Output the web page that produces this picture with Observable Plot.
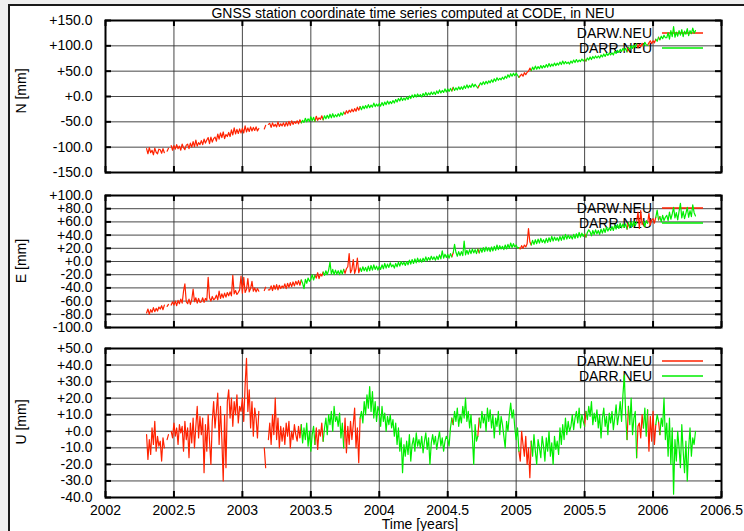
<!DOCTYPE html>
<html>
<head>
<meta charset="utf-8">
<script src="https://cdn.jsdelivr.net/npm/d3@7"></script>
<script src="https://cdn.jsdelivr.net/npm/@observablehq/plot@0.6"></script>
<style>
  html, body { margin: 0; padding: 0; background: #efefef; }
  #page { position: relative; width: 744px; height: 531px; overflow: hidden;
          font-family: "Liberation Sans", Arial, sans-serif; color: #000; }
  #sheet { position: absolute; left: 8px; top: 4px; width: 800px; height: 600px;
           background: #fff; border: 2px solid #1a1a1a; }
  #page svg { position: absolute; left: 0; top: 0; }
  .title { position: absolute; left: 105px; width: 616px; top: 5px; text-align: center;
           font-size: 14px; line-height: 16px; white-space: nowrap; }
  .xlabel { position: absolute; left: 320px; width: 200px; top: 518px; text-align: center;
            font-size: 14px; line-height: 12px; white-space: nowrap; }
  .ylabel { position: absolute; width: 100px; height: 16px; margin-left: -50px; margin-top: -8px;
            text-align: center; font-size: 14px; line-height: 16px; transform: rotate(-90deg);
            white-space: nowrap; }
</style>
</head>
<body>
<div id="page">
  <div id="sheet"></div>
  <div class="title">GNSS station coordinate time series computed at CODE, in NEU</div>
  <div class="ylabel" style="left:21px; top:91px">N [mm]</div>
  <div class="ylabel" style="left:21px; top:261px">E [mm]</div>
  <div class="ylabel" style="left:21px; top:422px">U [mm]</div>
  <div class="xlabel">Time [years]</div>
</div>
<script>
// Daily solutions resampled every 0.01 year, starting at 2002.30
const start = 2002.30;
const step = 0.01;

// North component [mm]; null = no solution
const north = [
  -103, -113, -101, -111, -106, -115, -102, -110, -113, -104,
  -105, -112, -103, -111, null, -108, -102, null, -97, -106,
  -97, -104, -95, -103, -98, -106, -94, -101, -105, -96,
  -94, -103, -92, -100, -89, -99, -86, -98, -91, -95,
  -87, -95, -84, -92, -86, -81, -93, -80, -90, -83,
  -80, -88, -74, -84, -72, -81, -70, -83, -75, -79,
  -71, -79, -66, -76, -62, -74, -65, -73, -64, -72,
  -63, -72, -58, -70, -62, -69, -60, -68, -61, -67,
  -60, -68, -63, null, null, null, -64, -57, null, -55,
  -53, -61, -52, -59, -55, -60, -50, -59, -54, -58,
  -52, -59, -51, -58, -49, -57, -48, -55, -50, -53,
  -48, -54, -46, -52, -47, -51, -43, -50, -44, -49,
  -40, -48, -41, -49, -39, -47, -42, -45, -38, -46,
  -38, -44, -37, -43, -35, -42, -34, -41, -36, -40,
  -34, -39, -32, -37, -31, -35, -28, -33, -27, -31,
  -25, -30, -24, -29, -21, -27, -20, -26, -19, -24,
  -18, -23, -16, -22, -17, -21, -13, -20, -15, -19,
  -14, -19, -12, -18, -11, -16, -9, -15, -10, -14,
  -8, -13, -6, -11, -4, -9, -2, -8, -3, -7,
  -1, -6, 1, -4, 3, -2, 4, -1, 5, 0,
  4, -1, 6, 1, 8, 2, 7, 3, 9, 4,
  9, 4, 11, 6, 13, 7, 12, 8, 15, 9,
  15, 10, 16, 11, 18, 12, 17, 13, 19, 14,
  19, 14, 21, 16, 23, 17, 22, 18, 25, 19,
  24, 20, 17, 22, 27, 23, 29, 24, 30, 25,
  31, 27, 33, 28, 35, 30, 37, 32, 36, 33,
  38, 34, 40, 36, 43, 38, 45, 40, 46, 41,
  46, 42, 38, 41, 44, 40, 47, 43, 48, 50,
  56, 51, 58, 53, 60, 54, 59, 55, 61, 56,
  61, 57, 63, 58, 65, 59, 64, 60, 66, 61,
  66, 62, 68, 63, 70, 64, 69, 65, 68, 64,
  70, 66, 72, 67, 73, 68, 72, 69, 74, 70,
  74, 70, 76, 72, 78, 73, 79, 75, 80, 76,
  80, 76, 82, 78, 84, 79, 85, 81, 86, 82,
  86, 82, 89, 85, 91, 87, 93, 89, 95, 91,
  95, 88, 97, 93, 100, 95, 101, 97, 104, 96,
  103, 98, 105, 100, 107, 102, 101, 106, 110, 104,
  110, 106, 113, 109, 117, 112, 119, 114, 121, 116,
  116, 126, 113, 130, 118, 138, 117, 127, 119, 130,
  121, 132, 118, 129, 123, 134, 120, 130, 124, 135,
  125, 130
];

// East component [mm]
const east = [
  -78, -72, -80, -73, -77, -70, -76, -71, -75, -69,
  -72, -67, -73, -66, null, -68, -65, null, -66, -61,
  -66, -60, -67, -59, -64, -57, -63, -45, -34, -61,
  -64, -57, -65, -58, -42, -61, -55, -63, -56, -62,
  -61, -55, -62, -56, -59, -24, -55, -60, -53, -58,
  -56, -51, -58, -45, -56, -49, -55, -48, -54, -47,
  -52, -46, -52, -21, -49, -44, -50, -47, -43, -22,
  -48, -24, -47, -42, -26, -46, -41, -30, -45, -40,
  -46, -41, -45, null, null, null, -44, -39, null, -43,
  -43, -37, -44, -36, -42, -35, -43, -36, -41, -37,
  -40, -34, -41, -33, -39, -32, -38, -31, -37, -30,
  -35, -29, -36, -28, -33, -41, -27, -33, -25, -30,
  -27, -20, -28, -21, -25, -17, -26, -19, -22, -16,
  -21, -14, -20, -13, -1, -19, -12, -20, -13, -19,
  -14, -20, -13, -19, -12, -18, -11, -8, 12, -17,
  -12, 3, -18, -11, 5, -17, -10, -15, -8, -14,
  -9, -15, -7, -14, -6, -13, -5, -12, -7, -13,
  -7, -12, -5, -11, -3, -10, -4, -9, -2, -8,
  -5, -10, -3, -8, -1, -7, 0, -5, -1, -6,
  0, -5, 2, -4, 3, -3, 4, -2, 5, -1,
  4, -1, 5, 0, 7, 1, 6, 2, 8, 3,
  7, 2, 8, 3, 10, 4, 16, 5, 11, 6,
  11, 5, 12, 7, 13, 26, 14, 8, 15, 9,
  15, 9, 31, 10, 17, 11, 18, 12, 19, 13,
  18, 12, 19, 13, 20, 14, 21, 15, 22, 16,
  21, 15, 22, 16, 23, 17, 25, 18, 24, 19,
  23, 18, 25, 19, 26, 20, 28, 21, 27, 22,
  25, 20, 21, 19, 24, 20, 25, 22, 27, 50,
  30, 25, 32, 26, 33, 27, 34, 28, 35, 29,
  33, 28, 35, 29, 36, 30, 38, 31, 37, 32,
  36, 31, 38, 32, 39, 33, 41, 34, 40, 35,
  39, 34, 41, 35, 42, 36, 44, 37, 43, 38,
  42, 37, 44, 48, 45, 39, 47, 41, 48, 42,
  47, 41, 49, 43, 50, 44, 52, 46, 51, 47,
  53, 47, 55, 49, 56, 50, 58, 51, 57, 52,
  57, 49, 59, 51, 60, 53, 61, 54, 60, 75,
  50, 77, 56, 60, 53, 62, 58, 73, 55, 63,
  65, 58, 67, 78, 63, 68, 60, 70, 62, 67,
  70, 62, 75, 64, 72, 82, 66, 74, 63, 76,
  88, 66, 76, 65, 73, 82, 67, 77, 68, 86,
  74, 69
];

// Up component [mm]
const up = [
  -2, -17, -5, -14, 2, -8, 6, -12, -3, -9,
  -6, -18, -4, -10, null, -5, -2, null, 0, -4,
  5, -3, 2, -8, 4, -1, 3, -12, 6, -5,
  2, -16, 5, -7, 8, -10, 3, 15, -4, 9,
  -2, 8, -25, 4, -12, 10, -6, -20, 6, 18,
  2, 12, 23, -8, 15, -5, -30, 10, -22, 18,
  25, 8, 20, 3, 18, 10, 22, 5, 15, 12,
  20, 6, 28, 44, 12, 25, 2, 18, -3, 14,
  8, -4, 12, null, null, null, -10, -22, null, -5,
  5, -8, 10, -2, 20, -5, 8, -10, 3, -6,
  2, -8, 5, -3, 6, -10, 0, -5, 4, -2,
  -6, 3, -4, 4, -7, 2, -5, 5, -9, 0,
  -12, -2, 3, -8, 2, -11, 1, -3, 5, -6,
  2, 8, -2, 10, 4, 12, 0, 15, 6, 9,
  3, 11, -4, 5, -10, 8, -13, 3, -8, 6,
  -5, 4, 14, -10, 2, -19, 8, 12, 5, 18,
  10, 22, 14, 27, 12, 24, 8, 18, 6, 15,
  12, 3, 15, 6, 11, 0, 9, 4, 10, 2,
  7, -3, 5, -8, 2, -12, -4, -25, -8, -15,
  -6, -14, -2, -18, -8, -4, -12, -1, -9, -5,
  -10, -3, -13, -6, -1, -11, -4, -20, -7, -2,
  -8, -3, -11, -5, 0, -9, -4, -12, -6, -3,
  -5, -9, 2, 8, 4, 12, 6, 14, 3, 10,
  5, 15, 8, 20, 6, 12, 2, 10, -3, -20,
  4, -6, -3, 8, 2, 12, 5, 10, 0, 14,
  6, 13, 2, 10, -4, 8, 3, 12, -2, 9,
  4, -3, -10, 6, 0, 10, 17, 8, 13, 2,
  -5, 2, -12, -18, 0, -8, -15, -3, -20, -10,
  -28, -6, -15, -2, -12, -20, -5, -10, -16, -3,
  -9, -18, -4, -12, 0, -15, -7, -20, -3, -11,
  -6, -14, 2, -8, 4, -5, 8, -2, 6, 0,
  3, 10, 1, 8, 12, 5, 14, 2, 10, 6,
  3, 12, 7, 15, 9, 18, 4, 11, 6, 13,
  2, 10, -4, 8, 14, 3, 9, -2, 11, 5,
  12, 1, 8, 16, 4, 10, 18, 6, 22, 34,
  10, -5, 15, 4, 20, -2, 8, 12, -16, 3,
  5, -4, 10, 2, 14, -3, 13, -12, 9, -6,
  12, -8, 4, 10, 6, -2, 8, 3, 20, -5,
  5, -15, 8, -20, 2, -38, -5, -18, 0, -10,
  -22, 4, -12, -25, -6, -30, -10, 2, -15, -4,
  -8, 0
];

// Which station delivered the solution: [station, first epoch, last epoch]
const segments = [
  ["DARW.NEU", 2002.30, 2003.42],
  ["DARR.NEU", 2003.43, 2003.52],
  ["DARW.NEU", 2003.53, 2003.58],
  ["DARR.NEU", 2003.59, 2003.73],
  ["DARW.NEU", 2003.74, 2003.85],
  ["DARR.NEU", 2003.86, 2004.52],
  ["DARW.NEU", 2004.53, 2004.53],
  ["DARR.NEU", 2004.54, 2004.71],
  ["DARW.NEU", 2004.72, 2004.72],
  ["DARR.NEU", 2004.73, 2005.01],
  ["DARW.NEU", 2005.02, 2005.10],
  ["DARR.NEU", 2005.11, 2005.49],
  ["DARW.NEU", 2005.50, 2005.50],
  ["DARR.NEU", 2005.51, 2005.80],
  ["DARW.NEU", 2005.81, 2005.81],
  ["DARR.NEU", 2005.82, 2005.87],
  ["DARW.NEU", 2005.88, 2005.92],
  ["DARR.NEU", 2005.93, 2005.95],
  ["DARW.NEU", 2005.96, 2006.01],
  ["DARR.NEU", 2006.02, 2006.03],
  ["DARW.NEU", 2006.04, 2006.04],
  ["DARR.NEU", 2006.05, 2006.31]
];

const stations = ["DARW.NEU", "DARR.NEU"];
const stationColors = ["#ff2200", "#00ee00"];

const xTicks = [2002, 2002.5, 2003, 2003.5, 2004, 2004.5, 2005, 2005.5, 2006, 2006.5];
const nTicks = [-150, -100, -50, 0, 50, 100, 150];
const eTicks = [-100, -80, -60, -40, -20, 0, 20, 40, 60, 80, 100];
const uTicks = [-40, -30, -20, -10, 0, 10, 20, 30, 40, 50];

const W = 744, H = 531;
const frameLeft = 105, frameRight = 721;

// Split one component into line pieces, one per station segment,
// each piece carrying the next epoch so consecutive pieces join.
function pieces(values) {
  const rows = [];
  segments.forEach(([station, a, b], k) => {
    const i0 = Math.round((a - start) / step);
    const i1 = Math.min(values.length - 1, Math.round((b - start) / step) + 1);
    for (let i = i0; i <= i1; i++) {
      const v = values[i];
      rows.push({t: start + i * step, v: v == null ? NaN : v, station, seg: k});
    }
  });
  return rows;
}

const fmtY = d => (d >= 0 ? "+" : "") + d.toFixed(1);

// Key in the upper right corner of each panel
function legendMark(index, scales, values, dim) {
  const g = d3.create("svg:g").attr("font-size", 14);
  const right = dim.width - dim.marginRight;
  stations.forEach((name, j) => {
    const y = Math.round(dim.marginTop + 13 + j * 14.5);
    g.append("text").attr("x", right - 69).attr("y", y).attr("dy", "0.35em")
      .attr("text-anchor", "end").attr("fill", "#000").text(name);
    g.append("line").attr("x1", right - 59).attr("x2", right - 18)
      .attr("y1", y).attr("y2", y).attr("stroke", stationColors[j]).attr("stroke-width", 1.6);
  });
  return g.node();
}

function panel(values, yDomain, yTicks, top, bottom, showX) {
  const rows = pieces(values);
  const pw = frameRight - frameLeft, ph = bottom - top;
  return Plot.plot({
    width: W, height: H,
    marginLeft: frameLeft, marginRight: W - frameRight,
    marginTop: top, marginBottom: H - bottom,
    x: {domain: [2002, 2006.5], axis: null},
    y: {domain: yDomain, axis: null},
    style: {background: "transparent", fontFamily: "'Liberation Sans', Arial, sans-serif",
            fontSize: "14px", color: "#000", overflow: "visible"},
    marks: [
      Plot.gridX(xTicks, {stroke: "#333", strokeOpacity: 0.9, strokeWidth: 1}),
      Plot.gridY(yTicks, {stroke: "#333", strokeOpacity: 0.9, strokeWidth: 1}),
      legendMark,
      Plot.line(rows.filter(d => d.station === stations[0]),
        {x: "t", y: "v", z: "seg", stroke: stationColors[0], strokeWidth: 1.2}),
      Plot.line(rows.filter(d => d.station === stations[1]),
        {x: "t", y: "v", z: "seg", stroke: stationColors[1], strokeWidth: 1.2}),
      // inward tick marks on all four sides
      Plot.tickY(yTicks, {y: d => d, insetRight: pw - 6, stroke: "#000", strokeWidth: 2}),
      Plot.tickY(yTicks, {y: d => d, insetLeft: pw - 6, stroke: "#000", strokeWidth: 2}),
      Plot.tickX(xTicks, {x: d => d, insetTop: ph - 6, stroke: "#000", strokeWidth: 2}),
      Plot.tickX(xTicks, {x: d => d, insetBottom: ph - 6, stroke: "#000", strokeWidth: 2}),
      Plot.frame({stroke: "#000", strokeWidth: 2}),
      Plot.axisY(yTicks, {tickSize: 0, tickPadding: 13, tickFormat: fmtY, label: null}),
      showX ? Plot.axisX(xTicks, {tickSize: 0, tickPadding: 8, tickFormat: d => String(d), label: null}) : null
    ]
  });
}

const page = document.getElementById("page");
page.appendChild(panel(north, [-150, 150], nTicks, 20, 172, false));
page.appendChild(panel(east, [-100, 100], eTicks, 195, 327, false));
page.appendChild(panel(up, [-40, 50], uTicks, 348, 497, true));
</script>
</body>
</html>
